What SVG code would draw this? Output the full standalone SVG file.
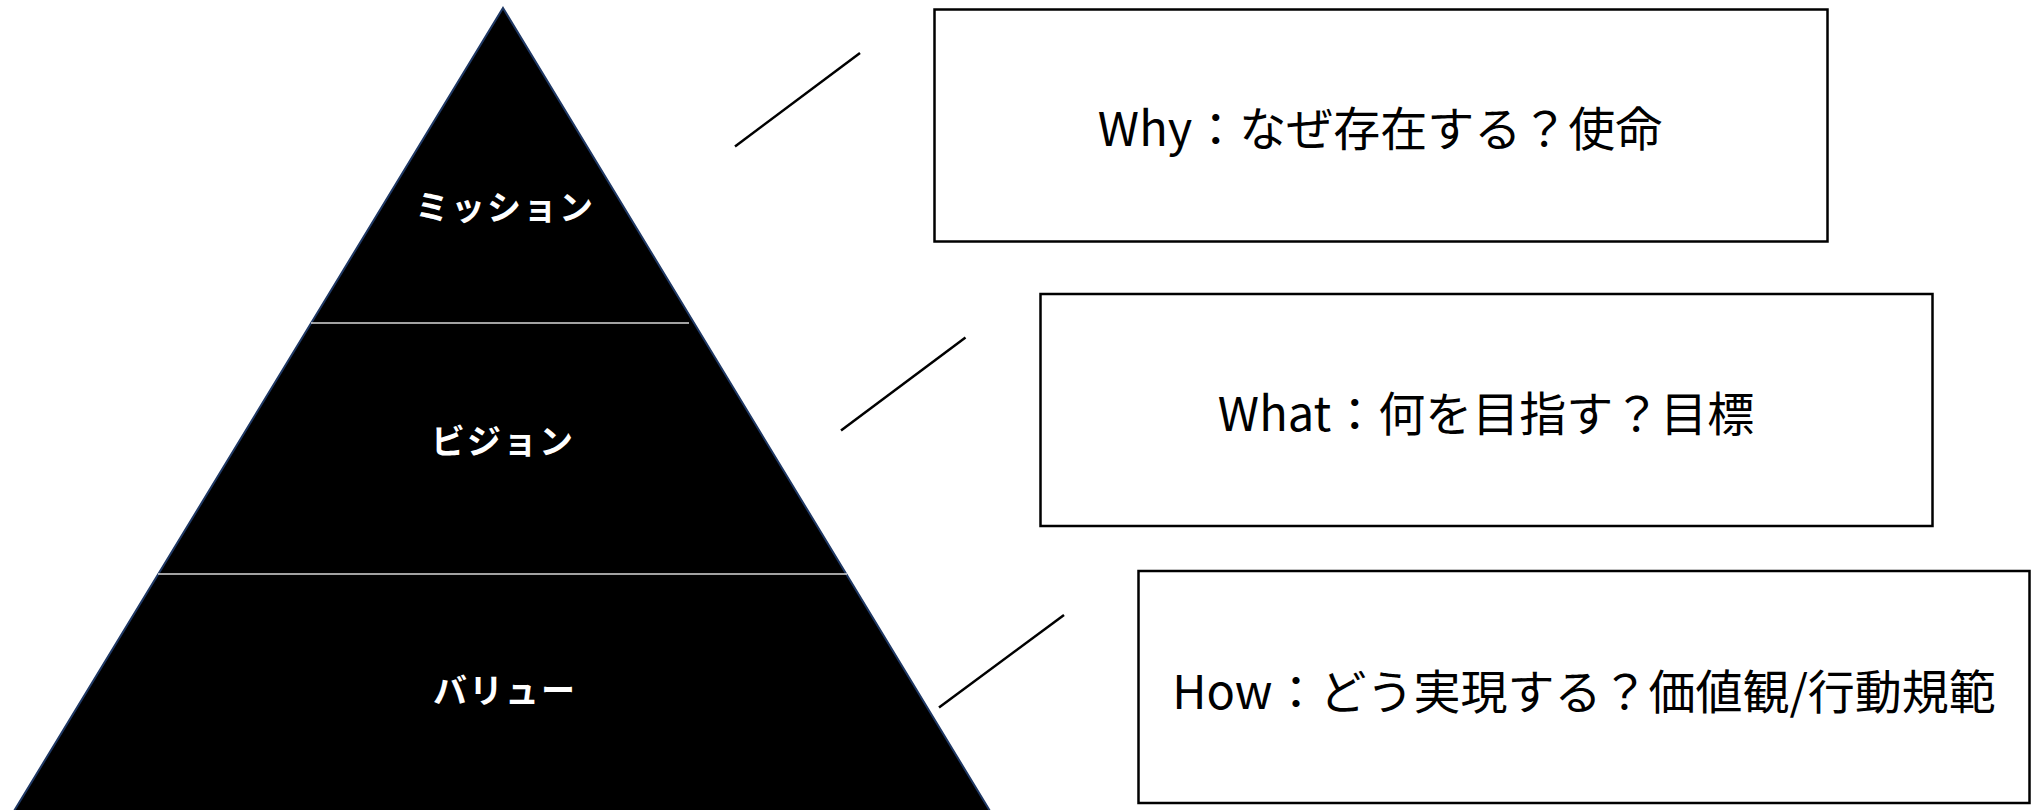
<svg xmlns="http://www.w3.org/2000/svg" width="2031" height="810" viewBox="0 0 2031 810">
<style>
.pyr{fill:#000;stroke:#1f3864;stroke-width:2}
.div{stroke:#d9d9d9;stroke-width:1.5}
.lbl{fill:#fff;font-family:"Noto Sans CJK JP","Noto Sans",sans-serif;font-weight:bold;font-size:34px;letter-spacing:2px;text-anchor:middle}
.box{fill:#fff;stroke:#000;stroke-width:2.5}
.btxt{fill:#000;font-family:"Noto Sans CJK JP","Noto Sans",sans-serif;font-size:47px;text-anchor:middle;dominant-baseline:central}
.con{stroke:#000;stroke-width:2.5;fill:none}
</style>
<rect width="2031" height="810" fill="#fff"/>
<g id="pyramid">
<polygon class="pyr" points="503,8 990,811 14,811"/>
<line class="div" x1="311" y1="323" x2="689" y2="323"/>
<line class="div" x1="158" y1="574" x2="847" y2="574"/>
</g>
<g id="mission"><text class="lbl" x="505" y="220">ミッション</text></g>
<g id="vision"><text class="lbl" x="503" y="454">ビジョン</text></g>
<g id="value"><text class="lbl" x="505" y="703">バリュー</text></g>
<g id="connectors">
<line class="con" x1="735" y1="146.5" x2="860" y2="53"/>
<line class="con" x1="841" y1="430.5" x2="965.5" y2="337.5"/>
<line class="con" x1="939" y1="707.5" x2="1064" y2="615"/>
</g>
<g id="why"><rect class="box" x="934.5" y="9.5" width="893" height="232"/><text class="btxt" x="1380" y="125">Why：なぜ存在する？使命</text></g>
<g id="what"><rect class="box" x="1040.5" y="294" width="892" height="232"/><text class="btxt" x="1486" y="410">What：何を目指す？目標</text></g>
<g id="how"><rect class="box" x="1138.5" y="571" width="891" height="232"/><text class="btxt" x="1584" y="688">How：どう実現する？価値観/行動規範</text></g>
</svg>
